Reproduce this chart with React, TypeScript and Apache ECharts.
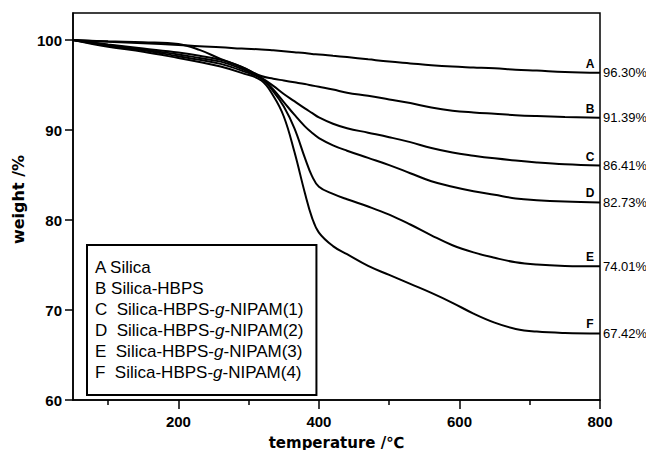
import React, { useEffect, useRef } from "react";
import * as echarts from "echarts";

const temps = [50, 100, 150, 200, 230, 260, 290, 318, 335, 350, 365, 380, 390, 400, 420, 440, 470, 500, 530, 560, 590, 620, 650, 680, 710, 750, 800];

const seriesA = [100, 99.8, 99.65, 99.45, 99.3, 99.2, 99.05, 98.95, 98.85, 98.75, 98.65, 98.55, 98.45, 98.4, 98.25, 98.1, 97.85, 97.6, 97.4, 97.2, 97.05, 96.95, 96.85, 96.7, 96.6, 96.45, 96.35];
const seriesB = [100, 99.5, 99.05, 98.6, 98.25, 97.8, 97.0, 96.0, 95.7, 95.5, 95.3, 95.1, 94.95, 94.8, 94.5, 94.15, 93.8, 93.4, 93.0, 92.5, 92.15, 91.95, 91.8, 91.65, 91.55, 91.45, 91.35];
const seriesC = [100, 99.45, 98.95, 98.4, 98.0, 97.6, 96.8, 95.8, 94.9, 94.0, 93.2, 92.4, 91.9, 91.4, 90.7, 90.2, 89.7, 89.2, 88.65, 88.0, 87.5, 87.15, 86.85, 86.6, 86.4, 86.2, 86.05];
const seriesD = [100, 99.85, 99.75, 99.55, 98.9, 97.9, 97.0, 95.8, 94.5, 93.1, 91.7, 90.4, 89.7, 89.1, 88.3, 87.7, 86.9, 86.1, 85.2, 84.3, 83.7, 83.2, 82.8, 82.4, 82.2, 82.05, 81.95];
const seriesE = [100, 99.35, 98.85, 98.2, 97.8, 97.35, 96.6, 95.7, 94.3, 92.6, 90.2, 86.9, 84.9, 83.7, 82.9, 82.3, 81.5, 80.6, 79.5, 78.3, 77.2, 76.4, 75.8, 75.3, 75.05, 74.9, 74.85];
const seriesF = [100, 99.25, 98.7, 98.0, 97.55, 97.05, 96.35, 95.5, 93.8, 91.5, 87.6, 83.0, 80.3, 78.6, 77.1, 76.2, 74.9, 73.9, 72.9, 71.9, 70.8, 69.6, 68.6, 67.9, 67.6, 67.45, 67.4];

const seriesNames = ["Silica", "Silica-HBPS", "Silica-HBPS-g-NIPAM(1)", "Silica-HBPS-g-NIPAM(2)", "Silica-HBPS-g-NIPAM(3)", "Silica-HBPS-g-NIPAM(4)"];
const letters = ["A", "B", "C", "D", "E", "F"];
const endLabels = ["96.30%", "91.39%", "86.41%", "82.73%", "74.01%", "67.42%"];
const allSeries = [seriesA, seriesB, seriesC, seriesD, seriesE, seriesF];

const xMajor = [200, 400, 600, 800];
const xMinor = [100, 300, 500, 700];
const yTicks = [60, 70, 80, 90, 100];

const legendText = (name: string) => {
  const i = seriesNames.indexOf(name);
  const L = letters[i];
  if (name.indexOf("-g-") >= 0) {
    const parts = name.split("-g-");
    return `${L}  ${parts[0]}-{i|g}-${parts[1]}`;
  }
  return `${L} ${name}`;
};

export default function App() {
  const ref = useRef<HTMLDivElement>(null);
  useEffect(() => {
    if (!ref.current) return;
    const chart = echarts.init(ref.current, null, { renderer: "svg" });
    const axisFont = "Liberation Sans, Arial, sans-serif";
    const nameFont = "DejaVu Sans, Verdana, sans-serif";
    chart.setOption({
      animation: false,
      backgroundColor: "#fff",
      grid: { left: 73, right: 54, top: 13, bottom: 58, show: true, borderColor: "#000", borderWidth: 1.5, backgroundColor: "transparent" },
      legend: {
        data: seriesNames,
        orient: "vertical",
        left: 87,
        top: 245,
        icon: "rect",
        itemWidth: 2,
        itemHeight: 2,
        itemGap: 0,
        itemStyle: { opacity: 0 },
        lineStyle: { opacity: 0 },
        borderColor: "#000",
        borderWidth: 2,
        padding: [12, 13, 12, 1],
        selectedMode: false,
        formatter: legendText,
        textStyle: {
          fontFamily: axisFont,
          fontSize: 17,
          color: "#000",
          lineHeight: 21,
          rich: { i: { fontStyle: "italic", fontFamily: axisFont, fontSize: 17, color: "#000", lineHeight: 21 } },
        },
      },
      xAxis: [
        {
          type: "value",
          min: 50,
          max: 800,
          position: "bottom",
          axisLine: { show: true, lineStyle: { color: "#000", width: 1.5 } },
          axisTick: { show: true, customValues: xMajor, length: 9, lineStyle: { color: "#000", width: 1.5 } },
          axisLabel: { customValues: xMajor, margin: 14, color: "#000", fontWeight: "bold", fontSize: 15, fontFamily: axisFont },
          splitLine: { show: false },
          name: "temperature /℃",
          nameLocation: "middle",
          nameGap: 35,
          nameTextStyle: { color: "#000", fontWeight: "bold", fontSize: 15, fontFamily: nameFont },
        },
        {
          type: "value",
          min: 50,
          max: 800,
          position: "bottom",
          axisLine: { show: false },
          axisTick: { show: true, customValues: xMinor, length: 5, lineStyle: { color: "#000", width: 1.5 } },
          axisLabel: { show: false },
          splitLine: { show: false },
        },
      ],
      yAxis: {
        type: "value",
        min: 60,
        max: 103,
        axisLine: { show: true, lineStyle: { color: "#000", width: 1.5 } },
        axisTick: { show: true, customValues: yTicks, length: 8, lineStyle: { color: "#000", width: 1.5 } },
        axisLabel: { customValues: yTicks, margin: 11, color: "#000", fontWeight: "bold", fontSize: 15, fontFamily: axisFont },
        splitLine: { show: false },
        name: "weight /%",
        nameLocation: "middle",
        nameGap: 40,
        nameTextStyle: { color: "#000", fontWeight: "bold", fontSize: 16, fontFamily: nameFont, padding: [0, 0, 0, 14] },
      },
      series: allSeries.map((vals, i) => ({
        type: "line",
        name: seriesNames[i],
        data: temps.map((t, j) => [t, vals[j]]),
        showSymbol: false,
        smooth: 0.4,
        color: "#000",
        lineStyle: { color: "#000", width: 2 },
        markPoint: {
          symbol: "circle",
          symbolSize: 0,
          silent: true,
          data: [
            {
              coord: [800, vals[vals.length - 1]],
              label: { show: true, position: "inside", offset: [-10, -9], formatter: letters[i], color: "#000", fontWeight: "bold", fontSize: 12, fontFamily: axisFont },
            },
            {
              coord: [800, vals[vals.length - 1]],
              label: { show: true, position: "right", distance: 3, formatter: endLabels[i], color: "#000", fontSize: 13, fontFamily: axisFont },
            },
          ],
        },
      })),
    });
    return () => chart.dispose();
  }, []);
  return <div ref={ref} style={{ width: 654, height: 458, margin: -8 }} />;
}
